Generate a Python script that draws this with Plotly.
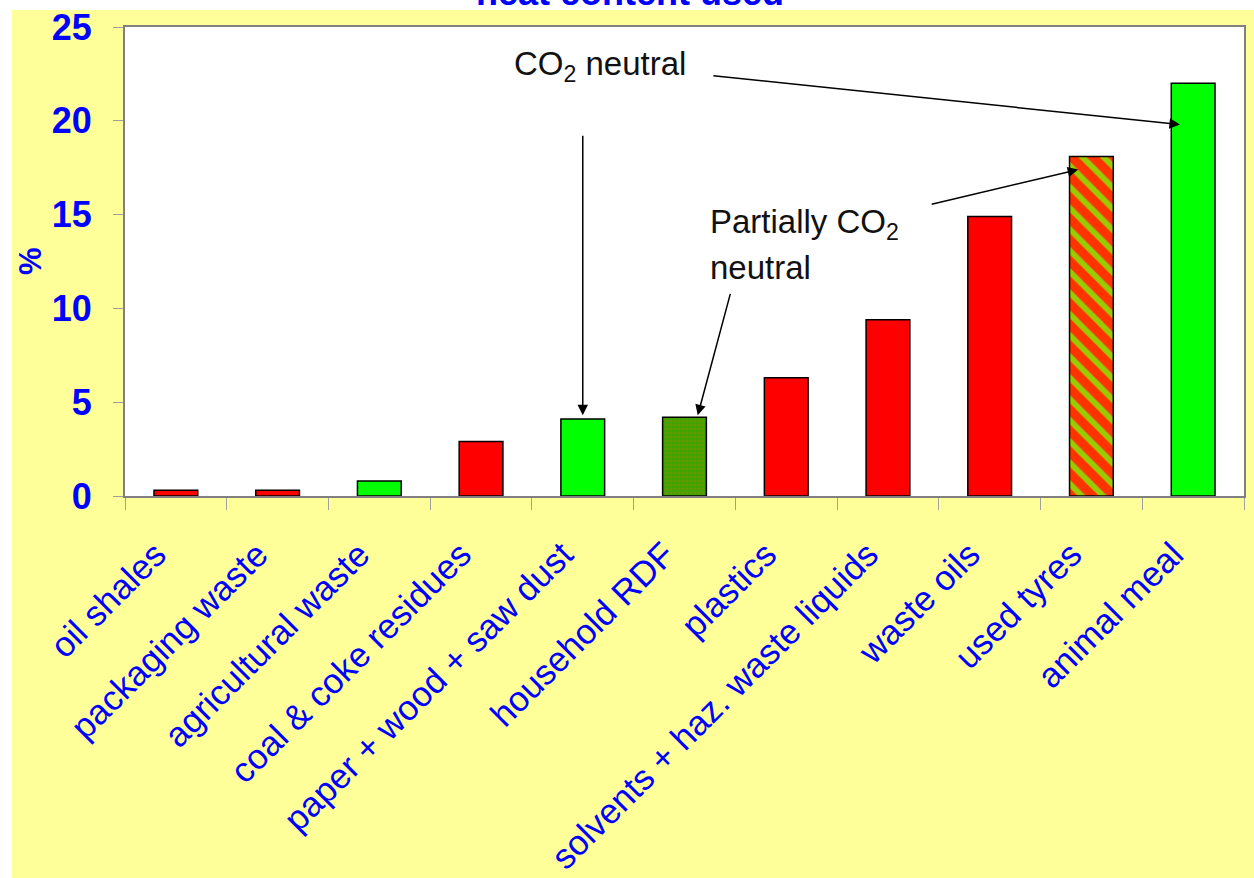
import plotly.graph_objects as go

# Share of heat content supplied by each alternative fuel (%)
categories = [
    "oil shales", "packaging waste", "agricultural waste", "coal & coke residues",
    "paper + wood + saw dust", "household RDF", "plastics",
    "solvents + haz. waste liquids", "waste oils", "used tyres", "animal meal",
]
values = [0.3, 0.3, 0.8, 2.9, 4.1, 4.2, 6.3, 9.4, 14.9, 18.1, 22.0]
bar_colors = ["#FF0000", "#FF0000", "#00FF00", "#FF0000", "#00FF00", "#40A400",
              "#FF0000", "#FF0000", "#FF0000", "#FF3300", "#00FF00"]
# fill pattern per bar: "" = solid, "." = dotted (partly CO2 neutral), "\\" = striped
pattern_shapes = ["", "", "", "", "", ".", "", "", "", "\\", ""]
pattern_fg = {".": "#6E9600", "\\": "#99CC00"}
pattern_size = {".": 4, "\\": 15}
pattern_solid = {".": 0.3, "\\": 0.38}

W, H = 1254, 878
L, R, T, B = 125, 10, 27, 382
PW, PH = W - L - R, H - T - B

def px(x):
    return (x - L) / PW

def py(y):
    return (H - B - y) / PH

BLUE = "#0000FF"
FONT = "Liberation Sans, Arial, sans-serif"

fig = go.Figure()
for shape in ["", ".", "\\"]:
    idx = [i for i, s in enumerate(pattern_shapes) if s == shape]
    if shape:
        # patterned bars: one colour per trace so the pattern colours apply
        marker = dict(color=bar_colors[idx[0]],
                      line=dict(color="#000000", width=1.5),
                      pattern=dict(shape=shape, fgcolor=pattern_fg[shape],
                                   bgcolor=bar_colors[idx[0]], fgopacity=1,
                                   size=pattern_size[shape],
                                   solidity=pattern_solid[shape],
                                   fillmode="replace"))
    else:
        marker = dict(color=[bar_colors[i] for i in idx],
                      line=dict(color="#000000", width=1.5))
    fig.add_trace(go.Bar(
        x=[categories[i] for i in idx],
        y=[values[i] for i in idx],
        width=0.43,
        marker=marker,
    ))

fig.update_layout(
    width=W, height=H,
    margin=dict(l=L, r=R, t=T, b=B, pad=0),
    paper_bgcolor="#FFFF99",
    plot_bgcolor="#FFFFFF",
    showlegend=False,
    font=dict(family=FONT, color=BLUE),
    barmode="overlay",
)

fig.update_xaxes(
    type="category",
    categoryorder="array", categoryarray=categories,
    tickson="boundaries",
    ticks="outside", ticklen=12, tickcolor="#A0A0A0", tickwidth=1,
    tickangle=-45,
    tickfont=dict(family=FONT, size=35, color=BLUE),
    ticklabelstandoff=22,
    ticklabelshift=-20,
    showline=True, linecolor="#808080", linewidth=2, mirror=True,
    showgrid=False, automargin=False,
)
fig.update_yaxes(
    range=[0, 25], dtick=5,
    ticks="outside", ticklen=10, tickcolor="#A0A0A0", tickwidth=1,
    tickfont=dict(family=FONT, size=36, color=BLUE, weight="bold"),
    ticklabelstandoff=14,
    showline=True, linecolor="#808080", linewidth=2, mirror=True,
    showgrid=False, zeroline=False, automargin=False,
)

# White page margin along the top and left of the slide panel
fig.add_shape(type="rect", xref="paper", yref="paper", layer="below",
              x0=px(-5), x1=px(W + 5), y0=py(10), y1=py(-5),
              fillcolor="#FFFFFF", line=dict(width=0))
fig.add_shape(type="rect", xref="paper", yref="paper", layer="below",
              x0=px(-5), x1=px(12), y0=py(H + 5), y1=py(-5),
              fillcolor="#FFFFFF", line=dict(width=0))

annotations = [
    # slide heading, mostly outside the top of the page
    dict(text="<b>heat content used</b>", xref="paper", yref="paper",
         x=px(630), y=py(15), xanchor="center", yanchor="bottom",
         showarrow=False, font=dict(size=36, color=BLUE, family=FONT)),
    dict(text="<b>%</b>", xref="paper", yref="paper", x=px(30), y=py(261),
         xanchor="center", yanchor="middle", textangle=-90,
         showarrow=False, font=dict(size=31, color=BLUE, family=FONT)),
    dict(text="CO<sub>2</sub> neutral", xref="paper", yref="paper",
         x=px(600), y=py(66), xanchor="center", yanchor="middle",
         showarrow=False, font=dict(size=33, color="#111111", family=FONT)),
    dict(text="Partially CO<sub>2</sub>", xref="paper", yref="paper",
         x=px(708), y=py(224), xanchor="left", yanchor="middle",
         showarrow=False, font=dict(size=33, color="#111111", family=FONT)),
    dict(text="neutral", xref="paper", yref="paper",
         x=px(708), y=py(267), xanchor="left", yanchor="middle",
         showarrow=False, font=dict(size=33, color="#111111", family=FONT)),
]

# Arrows pointing from the labels to the bars
arrow_style = dict(showarrow=True, arrowhead=2, arrowsize=1.4, arrowwidth=1.5,
                   arrowcolor="#000000", text="", xref="x", yref="y")
annotations += [
    dict(x=4, y=4.3, ax=0, ay=-281, **arrow_style),
    dict(x=9.87, y=19.8, ax=-468, ay=-49, **arrow_style),
    dict(x=8.87, y=17.4, ax=-148, ay=35, **arrow_style),
    dict(x=5.13, y=4.3, ax=33, ay=-123, **arrow_style),
]
fig.update_layout(annotations=annotations)

fig.write_html("out.html")
